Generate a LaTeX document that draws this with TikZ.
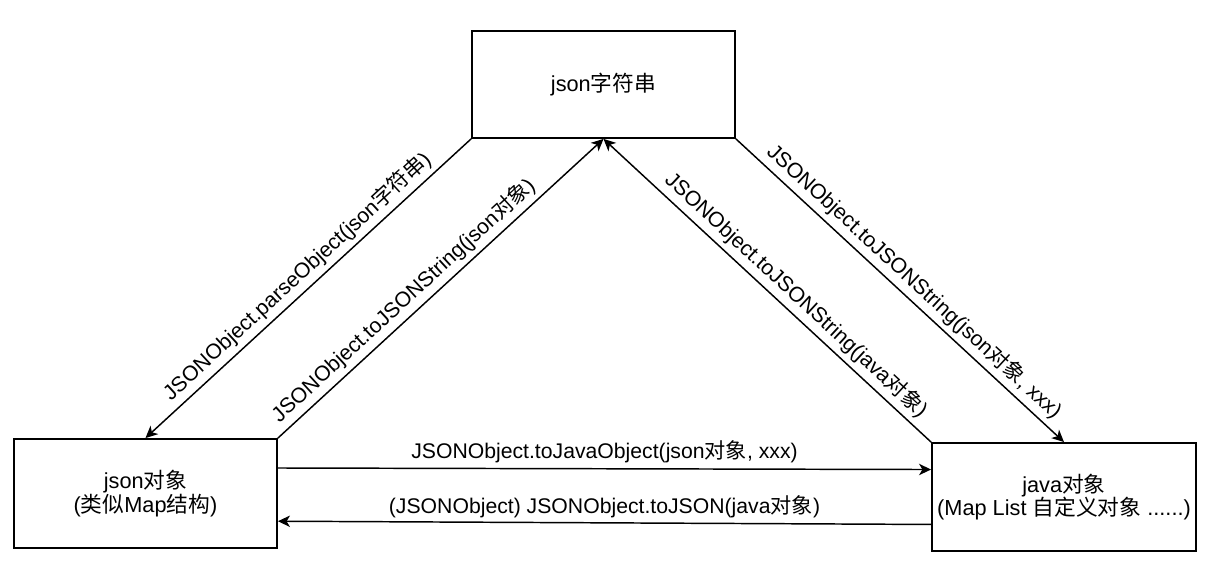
\documentclass[tikz,border=0pt]{standalone}
\usepackage{fontspec}
\setmainfont{Liberation Sans}
\newfontfamily\cjk{Noto Sans CJK SC}
\usetikzlibrary{arrows.meta,calc}
\begin{document}
\begin{tikzpicture}[x=0.75pt,y=0.75pt,
  box/.style={draw=black,line width=1.4pt,inner sep=0pt,align=center,
    font=\fontsize{16.3}{17.8}\selectfont},
  conn/.style={draw=black,line width=1.1pt,-{Stealth[length=9pt,width=8.5pt,inset=2.5pt]}},
  rconn/.style={draw=black,line width=1.1pt,{Stealth[length=9pt,width=8.5pt,inset=2.5pt]}-},
  lbl/.style={font=\fontsize{15.9}{17}\selectfont,above=1.5pt,inner sep=2pt}]
\useasboundingbox (0,0) rectangle (1218,574);
\node[box,minimum width=197.25pt,minimum height=80.25pt] (T) at (603.5,489.5) {json{\cjk 字符串}};
\node[box,minimum width=197.25pt,minimum height=81.75pt] (L) at (145.5,80.5) {json{\cjk 对象}\\({\cjk 类似}Map{\cjk 结构})};
\node[box,minimum width=198pt,minimum height=81pt] (R) at (1064,77) {java{\cjk 对象}\\(Map List {\cjk 自定义对象} ......)};
\draw[conn] (T.south west) -- (L.north)
  node[lbl,sloped,pos=0.5] {JSONObject.parseObject(json{\cjk 字符串})};
\draw[conn] (L.north east) -- (T.south)
  node[lbl,sloped,pos=0.42] {JSONObject.toJSONString(json{\cjk 对象})};
\draw[rconn] (T.south) -- (R.north west)
  node[lbl,sloped,pos=0.555] {JSONObject.toJSONString(java{\cjk 对象})};
\draw[conn] (T.south east) -- (R.north)
  node[lbl,sloped,pos=0.51] {JSONObject.toJSONString(json{\cjk 对象}, xxx)};
\draw[conn] ($(L.north east)!0.27!(L.south east)$) -- ($(R.north west)!0.25!(R.south west)$)
  node[lbl,pos=0.5] {JSONObject.toJavaObject(json{\cjk 对象}, xxx)};
\draw[conn] ($(R.north west)!0.75!(R.south west)$) -- ($(L.north east)!0.75!(L.south east)$)
  node[lbl,pos=0.5] {(JSONObject) JSONObject.toJSON(java{\cjk 对象})};
\end{tikzpicture}
\end{document}
